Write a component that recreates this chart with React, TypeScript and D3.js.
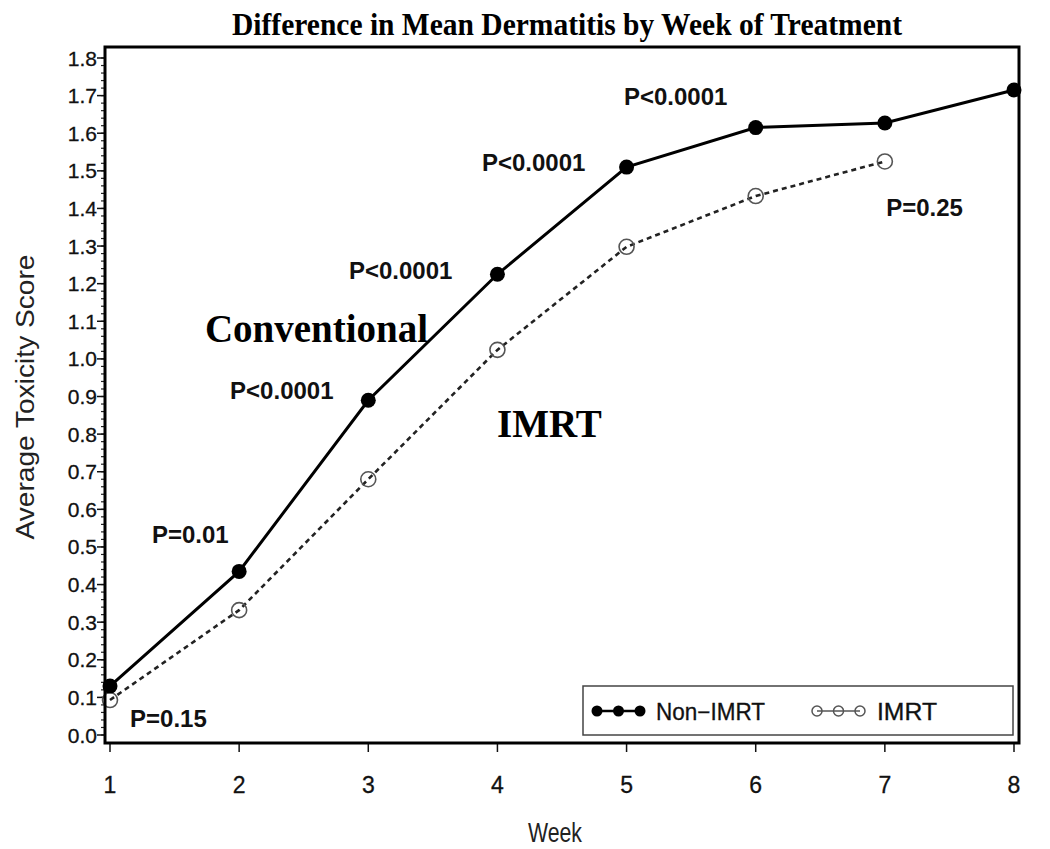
import React from "react";
import * as d3 from "d3";

const weeks = [1, 2, 3, 4, 5, 6, 7, 8];
const nonImrt = [0.13, 0.435, 0.89, 1.225, 1.51, 1.615, 1.627, 1.715];
const imrtWeeks = [1, 2, 3, 4, 5, 6, 7];
const imrt = [0.093, 0.332, 0.68, 1.024, 1.298, 1.433, 1.525];
const yTicks = [0, 0.1, 0.2, 0.3, 0.4, 0.5, 0.6, 0.7, 0.8, 0.9, 1.0, 1.1, 1.2, 1.3, 1.4, 1.5, 1.6, 1.7, 1.8];
const pLabels = [
  { text: "P=0.15", week: 1.155, value: 0.021 },
  { text: "P=0.01", week: 1.325, value: 0.51 },
  { text: "P<0.0001", week: 1.93, value: 0.893 },
  { text: "P<0.0001", week: 2.85, value: 1.212 },
  { text: "P<0.0001", week: 3.88, value: 1.5 },
  { text: "P<0.0001", week: 4.98, value: 1.675 },
  { text: "P=0.25", week: 7.01, value: 1.38 },
];
const seriesLabels = [
  { text: "Conventional", week: 1.735, value: 1.045 },
  { text: "IMRT", week: 3.997, value: 0.792 },
];

export default function App() {
  const W = 1050, H = 849;
  const frame = { left: 105, right: 1019, top: 47, bottom: 743 };
  const x = d3.scaleLinear().domain([1, 8]).range([110, 1014]);
  const y = d3.scaleLinear().domain([0, 1.8]).range([735, 58]);
  const minor = d3.range(0, 1.8001, 0.02);
  const lineGen = d3.line<[number, number]>().x(d => x(d[0])).y(d => y(d[1]));
  const solidPath = lineGen(weeks.map((w, i) => [w, nonImrt[i]] as [number, number]));
  const dashPath = lineGen(imrtWeeks.map((w, i) => [w, imrt[i]] as [number, number]));
  const sans = "'Liberation Sans', Arial, sans-serif";
  const serif = "'Liberation Serif', 'Times New Roman', serif";
  const legY = 711;
  return (
    <svg width={W} height={H} style={{ position: "absolute", left: 0, top: 0, background: "#fff" }}>
      <rect x={0} y={0} width={W} height={H} fill="#fff" />
      <text x={567} y={35} textAnchor="middle" fontFamily={serif} fontWeight="bold" fontSize={31} textLength={670} lengthAdjust="spacingAndGlyphs">
        Difference in Mean Dermatitis by Week of Treatment
      </text>
      {minor.map((v, i) => (
        <line key={"m" + i} x1={frame.left - 4} x2={frame.left} y1={y(v)} y2={y(v)} stroke="#222" strokeWidth={1.2} />
      ))}
      {yTicks.map(v => (
        <g key={"y" + v}>
          <line x1={frame.left - 8} x2={frame.left} y1={y(v)} y2={y(v)} stroke="#111" strokeWidth={1.5} />
          <text x={frame.left - 8} y={y(v) + 7.5} textAnchor="end" fontFamily={sans} fontSize={21} fill="#111" stroke="#111" strokeWidth={0.3}>
            {v.toFixed(1)}
          </text>
        </g>
      ))}
      {weeks.map(w => (
        <g key={"x" + w}>
          <line x1={x(w)} x2={x(w)} y1={frame.bottom} y2={frame.bottom + 9} stroke="#111" strokeWidth={1.5} />
          <text x={x(w)} y={793} textAnchor="middle" fontFamily={sans} fontSize={23} fill="#111" stroke="#111" strokeWidth={0.3}>
            {w}
          </text>
        </g>
      ))}
      <text x={555} y={842} textAnchor="middle" fontFamily={sans} fontSize={28} fill="#222" textLength={54} lengthAdjust="spacingAndGlyphs">
        Week
      </text>
      <text transform={`translate(34,${397}) rotate(-90)`} textAnchor="middle" fontFamily={sans} fontSize={26} fill="#222" textLength={285} lengthAdjust="spacingAndGlyphs">
        Average Toxicity  Score
      </text>
      <path d={dashPath || ""} fill="none" stroke="#222" strokeWidth={2.6} strokeDasharray="5,4" />
      <path d={solidPath || ""} fill="none" stroke="#000" strokeWidth={3} />
      {imrtWeeks.map((w, i) => (
        <circle key={"o" + w} cx={x(w)} cy={y(imrt[i])} r={7.5} fill="none" stroke="#555" strokeWidth={1.6} />
      ))}
      {weeks.map((w, i) => (
        <circle key={"f" + w} cx={x(w)} cy={y(nonImrt[i])} r={7.5} fill="#000" />
      ))}
      {pLabels.map((p, i) => (
        <text key={"p" + i} x={x(p.week)} y={y(p.value)} fontFamily={sans} fontWeight="bold" fontSize={24} fill="#111">
          {p.text}
        </text>
      ))}
      {seriesLabels.map((s, i) => (
        <text key={"s" + i} x={x(s.week)} y={y(s.value)} fontFamily={serif} fontWeight="bold" fontSize={39} fill="#000">
          {s.text}
        </text>
      ))}
      <rect x={583} y={686} width={430} height={49} fill="#fff" stroke="#444" strokeWidth={1.5} />
      <line x1={597} x2={640} y1={legY} y2={legY} stroke="#000" strokeWidth={2.5} />
      {[597, 618.5, 640].map(cx => (
        <circle key={"lf" + cx} cx={cx} cy={legY} r={5.5} fill="#000" />
      ))}
      <text x={656} y={legY + 8.5} fontFamily={sans} fontSize={23} fill="#111" stroke="#111" strokeWidth={0.3} textLength={109} lengthAdjust="spacingAndGlyphs">Non−IMRT</text>
      {[817, 838.5, 860].map(cx => (
        <circle key={"lo" + cx} cx={cx} cy={legY} r={5} fill="#fff" stroke="#555" strokeWidth={1.5} />
      ))}
      <line x1={817} x2={860} y1={legY} y2={legY} stroke="#555" strokeWidth={1.5} />
      <text x={877} y={legY + 8.5} fontFamily={sans} fontSize={23} fill="#111" stroke="#111" strokeWidth={0.3} textLength={60} lengthAdjust="spacingAndGlyphs">IMRT</text>
      <rect x={frame.left} y={frame.top} width={frame.right - frame.left} height={frame.bottom - frame.top} fill="none" stroke="#000" strokeWidth={3} />
    </svg>
  );
}
